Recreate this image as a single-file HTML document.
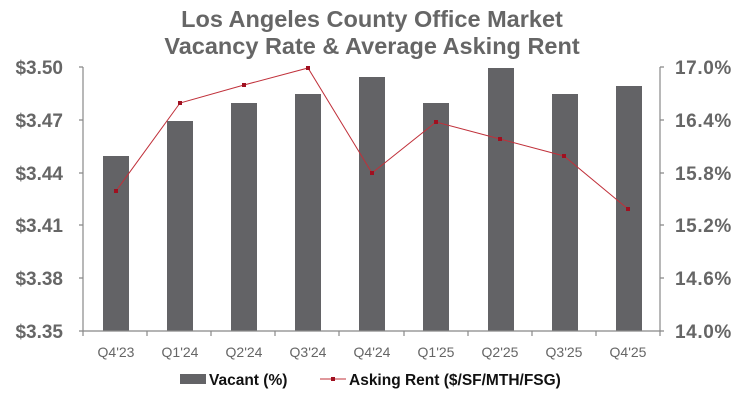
<!DOCTYPE html>
<html><head><style>body{margin:0;background:#fff}svg{display:block}</style></head><body>
<svg width="744" height="400" xmlns="http://www.w3.org/2000/svg" font-family="Liberation Sans, sans-serif">
<g fill="#666" font-weight="bold" font-size="23.5" text-anchor="middle">
<text x="372" y="27">Los Angeles County Office Market</text>
<text x="372" y="54">Vacancy Rate &amp; Average Asking Rent</text>
</g>
<g fill="#636366">
<rect x="103" y="156" width="26" height="175"/>
<rect x="167" y="121" width="26" height="210"/>
<rect x="231" y="103" width="26" height="228"/>
<rect x="295" y="94" width="26" height="237"/>
<rect x="359" y="77" width="26" height="254"/>
<rect x="423" y="103" width="26" height="228"/>
<rect x="488" y="68" width="26" height="263"/>
<rect x="552" y="94" width="26" height="237"/>
<rect x="616" y="86" width="26" height="245"/>
</g>
<g stroke="#888" stroke-width="1.2" fill="none">
<path d="M83 67V331H660V67"/>
<path d="M79 67H83M79 120H83M79 173H83M79 225H83M79 278H83M79 331H83"/>
<path d="M660 67H664M660 120H664M660 173H664M660 225H664M660 278H664M660 331H664"/>
<path d="M83 331v5M147 331v5M211 331v5M275 331v5M339 331v5M404 331v5M468 331v5M532 331v5M596 331v5M660 331v5"/>
</g>
<polyline fill="none" stroke="#c0303a" stroke-width="1" points="116,191 180,103 244,85 308,68 372,173 436,122 500,139 564,156 628,209"/>
<g fill="#a01020">
<rect x="114" y="189" width="4" height="4"/><rect x="178" y="101" width="4" height="4"/><rect x="242" y="83" width="4" height="4"/><rect x="306" y="66" width="4" height="4"/><rect x="370" y="171" width="4" height="4"/><rect x="434" y="120" width="4" height="4"/><rect x="498" y="137" width="4" height="4"/><rect x="562" y="154" width="4" height="4"/><rect x="626" y="207" width="4" height="4"/>
</g>
<g fill="#666" font-weight="bold" font-size="19" text-anchor="end">
<text x="63" y="74">$3.50</text><text x="63" y="127">$3.47</text><text x="63" y="180">$3.44</text><text x="63" y="232">$3.41</text><text x="63" y="285">$3.38</text><text x="63" y="338">$3.35</text>
</g>
<g fill="#666" font-weight="bold" font-size="19" letter-spacing="0.6">
<text x="675" y="74">17.0%</text><text x="675" y="127">16.4%</text><text x="675" y="180">15.8%</text><text x="675" y="232">15.2%</text><text x="675" y="285">14.6%</text><text x="675" y="338">14.0%</text>
</g>
<g fill="#666" font-size="14" text-anchor="middle">
<text x="116" y="357">Q4'23</text><text x="180" y="357">Q1'24</text><text x="244" y="357">Q2'24</text><text x="308" y="357">Q3'24</text><text x="372" y="357">Q4'24</text><text x="436" y="357">Q1'25</text><text x="500" y="357">Q2'25</text><text x="564" y="357">Q3'25</text><text x="628" y="357">Q4'25</text>
</g>
<rect x="180" y="374" width="26" height="10" fill="#636366"/>
<text x="209" y="385" font-size="15.5" font-weight="bold" fill="#111">Vacant (%)</text>
<line x1="320" y1="379" x2="346" y2="379" stroke="#c0303a" stroke-width="1"/>
<rect x="331" y="377" width="4" height="4" fill="#a01020"/>
<text x="349" y="385" font-size="15.5" font-weight="bold" fill="#111">Asking Rent ($/SF/MTH/FSG)</text>
</svg>
</body></html>
